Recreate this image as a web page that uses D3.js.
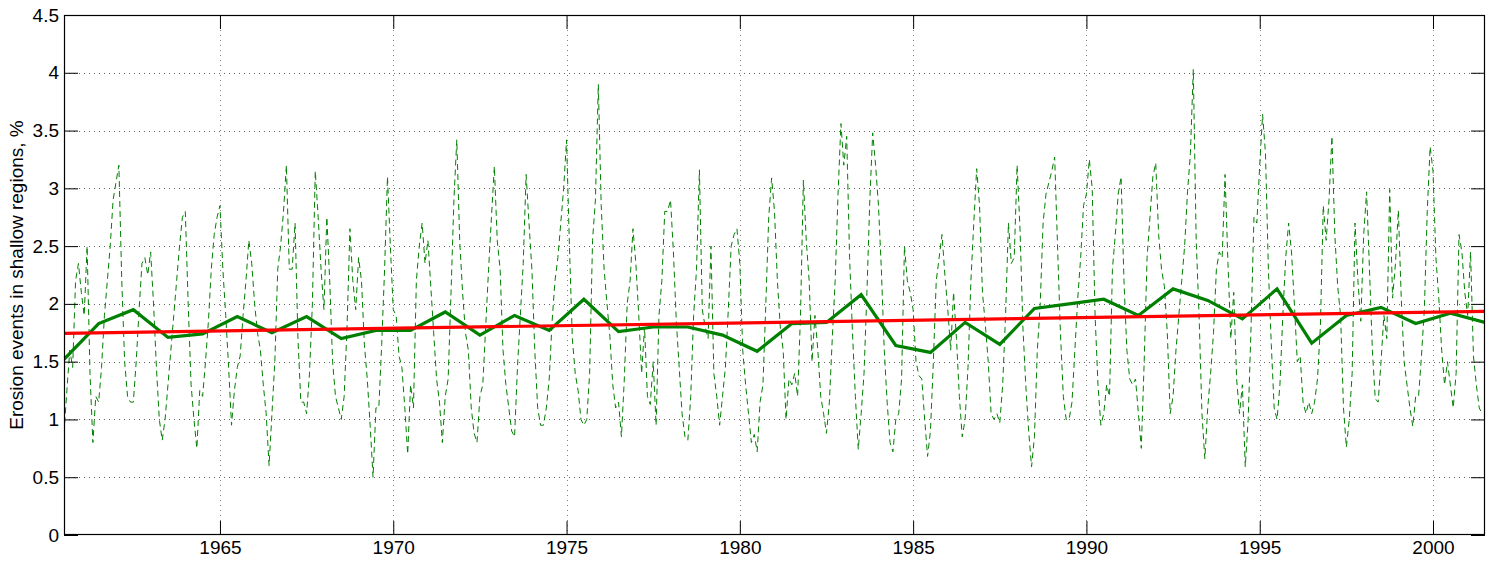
<!DOCTYPE html>
<html>
<head>
<meta charset="utf-8">
<script src="https://cdn.jsdelivr.net/npm/d3@7"></script>
<style>
  html, body { margin: 0; padding: 0; background: #fff; }
  svg { display: block; }
  text { font-family: "Liberation Sans", Arial, Helvetica, sans-serif; }
</style>
</head>
<body>
<svg id="chart" width="1496" height="564"></svg>
<script>
// ---------------- DATA ----------------
const monthlyStart = 1960.5;          // x position of first monthly value
const monthlyStep = 1 / 12;           // one month
const monthlyValues = [
  0.88, 1.25, 1.6, 1.45, 2.2, 2.35, 2.1, 1.9, 2.5, 1.4, 0.8, 1.2,
  1.15, 1.45, 1.9, 2.2, 2.5, 2.9, 3.05, 3.2, 2.2, 1.5, 1.2, 1.15,
  1.15, 1.5, 1.95, 2.35, 2.4, 2.25, 2.45, 2.0, 1.45, 1.0, 0.82, 1.0,
  1.3, 1.6, 1.9, 2.2, 2.5, 2.75, 2.8, 2.0, 1.3, 1.0, 0.75, 1.25,
  1.2, 1.5, 1.85, 2.3, 2.6, 2.75, 2.85, 2.3, 1.9, 1.45, 0.95, 1.25,
  1.45, 1.55, 1.9, 2.2, 2.55, 2.35, 2.0, 1.75, 1.6, 1.3, 1.05, 0.6,
  1.05, 1.5, 2.3, 2.5, 2.8, 3.2, 2.3, 2.3, 2.7, 1.7, 1.15, 1.15,
  1.05, 1.4, 2.0, 3.15, 2.75, 2.3, 1.95, 2.75, 2.2, 1.5, 1.2, 1.1,
  1.0, 1.2, 1.8, 2.65, 2.2, 1.95, 2.4, 2.2, 1.65, 1.35, 0.95, 0.5,
  1.1, 1.1, 1.65, 2.3, 3.1, 2.5, 1.95, 1.9, 1.55, 1.45, 1.1, 0.7,
  1.3, 1.1, 2.2, 2.5, 2.7, 2.35, 2.55, 2.15, 1.75, 1.35, 1.15, 0.8,
  1.2, 1.35, 2.1, 2.9, 3.42, 2.55, 2.1, 1.75, 1.6, 1.1, 0.88, 0.8,
  1.2, 1.3, 1.8, 2.3, 2.75, 3.19, 2.55, 2.3, 1.6, 1.3, 1.1, 0.9,
  0.85, 1.45, 1.9, 2.35, 3.12, 2.7, 2.3, 1.6, 1.1, 0.95, 0.95, 1.1,
  1.35, 1.85, 2.2, 2.4, 2.7, 3.0, 3.42, 2.5, 1.7, 1.4, 1.25, 1.0,
  0.95, 1.0, 1.4, 2.55, 2.9, 3.9, 2.85, 2.3, 2.0, 1.72, 1.3, 1.1,
  1.15, 0.85, 1.35, 2.0, 2.2, 2.65, 2.35, 1.9, 1.4, 1.8, 1.2, 1.13,
  1.5, 0.95, 1.9, 2.2, 2.8, 2.8, 2.9, 2.45, 1.85, 1.45, 1.05, 0.85,
  0.82, 1.2, 1.9, 2.3, 3.16, 1.95, 1.8, 1.7, 2.5, 1.4, 1.2, 0.95,
  1.2, 1.45, 1.95, 2.5, 2.6, 2.65, 2.35, 1.6, 1.3, 1.05, 0.8, 0.87,
  0.72, 1.15, 1.3, 2.0, 2.75, 3.09, 2.8, 2.2, 1.8, 1.6, 1.0, 1.35,
  1.3, 1.4, 1.2, 1.9, 3.07, 2.55, 2.2, 1.5, 1.9, 1.6, 1.2, 1.05,
  0.88, 1.15, 1.7, 2.2, 2.95, 3.56, 3.2, 3.45, 2.4, 1.75, 1.2, 0.74,
  1.05, 1.4, 2.1, 2.9, 3.48, 3.2, 2.85, 2.3, 1.6, 1.15, 0.8, 0.72,
  1.0, 1.05, 1.35, 2.5, 2.2, 2.1, 1.95, 1.5, 1.38, 1.35, 1.0, 0.68,
  0.9, 1.5, 2.2, 2.4, 2.6, 2.25, 1.95, 1.6, 2.1, 1.7, 1.2, 0.85,
  1.0, 1.45, 2.2, 2.7, 3.17, 2.85, 2.1, 1.82, 1.5, 1.05, 1.0, 1.05,
  0.97, 1.3, 1.9, 2.7, 2.35, 2.4, 3.2, 2.65, 1.8, 1.3, 0.9, 0.59,
  0.85, 1.6, 2.0, 2.7, 2.95, 3.05, 3.15, 3.27, 2.5, 1.75, 1.2, 1.0,
  1.0, 1.15, 1.6, 2.05, 2.4, 2.85, 2.95, 3.25, 3.0, 1.9, 1.3, 0.95,
  1.05, 1.3, 1.2, 2.3, 2.6, 2.95, 3.1, 2.2, 1.6, 1.35, 1.3, 1.35,
  1.05, 0.75, 1.5, 2.4, 2.75, 3.1, 3.22, 2.6, 2.3, 2.15, 1.75, 1.05,
  1.2, 1.6, 1.9, 2.2, 2.5, 2.97, 3.3, 4.03, 2.55, 1.9, 1.05, 0.66,
  1.1, 1.4, 1.75, 2.3, 2.45, 2.4, 3.12, 2.35, 1.7, 2.1, 1.35, 1.05,
  1.3, 0.59, 1.0, 1.8, 2.75, 2.7, 3.2, 3.64, 3.3, 2.3, 1.65, 1.1,
  1.0, 1.3, 1.9, 2.4, 2.7, 2.45, 2.0, 1.5, 1.55, 1.15, 1.05, 1.15,
  1.05, 1.15, 1.35, 1.8, 2.85, 2.55, 2.9, 3.45, 2.6, 2.15, 1.9, 1.1,
  0.76, 1.0, 1.4, 2.7, 2.2, 1.85, 2.6, 2.97, 2.3, 1.6, 1.18, 1.15,
  1.5, 1.9, 1.7, 2.99, 2.05, 2.35, 2.81, 2.05, 1.5, 1.3, 1.1, 0.94,
  1.2, 1.2, 1.55, 1.95, 2.8, 3.36, 3.15, 2.4, 2.05, 1.6, 1.3, 1.5,
  1.3, 1.1, 1.4, 2.6, 2.45, 2.1, 1.9, 2.45, 1.55, 1.3, 1.1, 1.05
];

const annualYears = [
  1960.5, 1961.5, 1962.5, 1963.5, 1964.5, 1965.5, 1966.5, 1967.5, 1968.5, 1969.5,
  1970.5, 1971.5, 1972.5, 1973.5, 1974.5, 1975.5, 1976.5, 1977.5, 1978.5, 1979.5,
  1980.5, 1981.5, 1982.5, 1983.5, 1984.5, 1985.5, 1986.5, 1987.5, 1988.5, 1989.5,
  1990.5, 1991.5, 1992.5, 1993.5, 1994.5, 1995.5, 1996.5, 1997.5, 1998.5, 1999.5,
  2000.5, 2001.5
];
const annualValues = [
  1.52, 1.83, 1.95, 1.71, 1.74, 1.89, 1.75, 1.89, 1.70, 1.77,
  1.77, 1.93, 1.73, 1.90, 1.77, 2.04, 1.76, 1.80, 1.80, 1.73,
  1.59, 1.83, 1.84, 2.08, 1.64, 1.58, 1.84, 1.65, 1.96, 2.00,
  2.04, 1.90, 2.13, 2.03, 1.87, 2.13, 1.66, 1.90, 1.97, 1.83,
  1.92, 1.84
];

const trendYears = [1960.5, 2001.5];
const trendValues = [1.745, 1.935];

const xTicks = [1965, 1970, 1975, 1980, 1985, 1990, 1995, 2000];
const yTicks = [0, 0.5, 1, 1.5, 2, 2.5, 3, 3.5, 4, 4.5];
const yLabel = "Erosion events in shallow regions, %";
const xDomain = [1960.5, 2001.5];
const yDomain = [0, 4.5];

// ---------------- LAYOUT ----------------
const L = 64, R = 1485, T = 15, B = 535;
const svg = d3.select("#chart");

const x = d3.scaleLinear().domain(xDomain).range([L, R]);
const y = d3.scaleLinear().domain(yDomain).range([B, T]);

svg.append("defs").append("clipPath").attr("id", "plotclip")
  .append("rect").attr("x", L).attr("y", T).attr("width", R - L).attr("height", B - T);

// grid
const grid = svg.append("g").attr("class", "grid");
grid.selectAll("line.vx").data(xTicks).enter().append("line")
  .attr("x1", d => Math.round(x(d)) + 0.5).attr("x2", d => Math.round(x(d)) + 0.5)
  .attr("y1", T).attr("y2", B)
  .attr("stroke", "#000").attr("stroke-opacity", 0.5).attr("stroke-width", 1)
  .attr("stroke-dasharray", "1,4");
grid.selectAll("line.hy").data(yTicks.filter(d => d > 0 && d < 4.5)).enter().append("line")
  .attr("y1", d => Math.round(y(d)) + 0.5).attr("y2", d => Math.round(y(d)) + 0.5)
  .attr("x1", L).attr("x2", R)
  .attr("stroke", "#000").attr("stroke-opacity", 0.6).attr("stroke-width", 1)
  .attr("stroke-dasharray", "1,4");

// data lines
const plot = svg.append("g").attr("clip-path", "url(#plotclip)");

const monthly = monthlyValues.map((v, i) => ({ t: monthlyStart + i * monthlyStep, v }));
const annual = annualYears.map((t, i) => ({ t, v: annualValues[i] }));
const trend = trendYears.map((t, i) => ({ t, v: trendValues[i] }));

const line = d3.line().x(d => x(d.t)).y(d => y(d.v));

plot.append("path").datum(monthly)
  .attr("d", line).attr("fill", "none")
  .attr("stroke", "#008000").attr("stroke-width", 1)
  .attr("stroke-dasharray", "6,4");

plot.append("path").datum(annual)
  .attr("d", line).attr("fill", "none")
  .attr("stroke", "#008000").attr("stroke-width", 3.2)
  .attr("stroke-linejoin", "miter");

plot.append("path").datum(trend)
  .attr("d", line).attr("fill", "none")
  .attr("stroke", "#ff0000").attr("stroke-width", 3.2);

// axes
const fontSize = 19;
const xAxisB = d3.axisBottom(x).tickValues(xTicks).tickFormat(d3.format("d"))
  .tickSizeInner(-14).tickSizeOuter(0).tickPadding(6);
const gxb = svg.append("g").attr("transform", `translate(0,${B})`).call(xAxisB);

const xAxisT = d3.axisTop(x).tickValues(xTicks).tickFormat("")
  .tickSizeInner(-14).tickSizeOuter(0);
const gxt = svg.append("g").attr("transform", `translate(0,${T})`).call(xAxisT);

const yAxisL = d3.axisLeft(y).tickValues(yTicks).tickFormat(d => String(d))
  .tickSizeInner(-14).tickSizeOuter(0).tickPadding(5);
const gyl = svg.append("g").attr("transform", `translate(${L},0)`).call(yAxisL);

const yAxisR = d3.axisRight(y).tickValues(yTicks).tickFormat("")
  .tickSizeInner(-14).tickSizeOuter(0);
const gyr = svg.append("g").attr("transform", `translate(${R},0)`).call(yAxisR);

[gxb, gxt, gyl, gyr].forEach(g => {
  g.select(".domain").remove();
  g.selectAll(".tick line").attr("stroke", "#000").attr("stroke-width", 1);
  g.selectAll(".tick text").attr("fill", "#000")
    .style("font-family", "'Liberation Sans', Arial, Helvetica, sans-serif")
    .style("font-size", fontSize + "px");
});

// box
svg.append("rect")
  .attr("x", L + 0.5).attr("y", T + 0.5)
  .attr("width", R - L - 1).attr("height", B - T - 1)
  .attr("fill", "none").attr("stroke", "#000").attr("stroke-width", 1.2);

// y label
svg.append("text")
  .attr("transform", `translate(23,${(T + B) / 2}) rotate(-90)`)
  .attr("text-anchor", "middle")
  .style("font-size", fontSize + "px")
  .attr("fill", "#000")
  .text(yLabel);
</script>
</body>
</html>
